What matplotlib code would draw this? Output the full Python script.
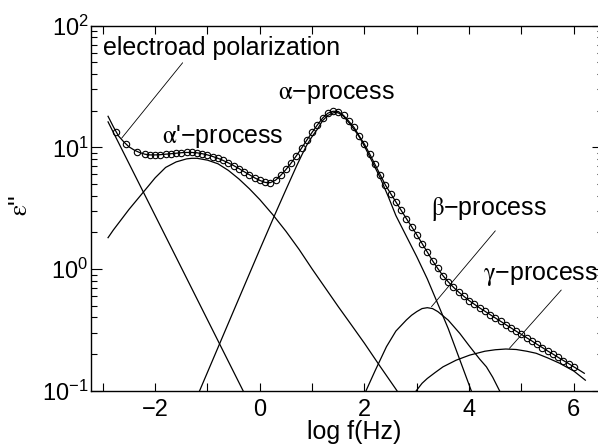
import matplotlib
matplotlib.use("Agg")
import matplotlib.pyplot as plt
from matplotlib.ticker import MultipleLocator, LogLocator, NullFormatter

plt.rcParams['font.family'] = ['Liberation Sans', 'DejaVu Sans']
plt.rcParams['mathtext.fontset'] = 'stix'

# total fit curve (log f step 0.1)
fit_logf = [-2.9, -2.8, -2.7, -2.6, -2.5, -2.4, -2.3, -2.2, -2.1, -2.0,
            -1.9, -1.8, -1.7, -1.6, -1.5, -1.4, -1.3, -1.2, -1.1, -1.0,
            -0.9, -0.8, -0.7, -0.6, -0.5, -0.4, -0.3, -0.2, -0.1, 0.0,
            0.1, 0.2, 0.3, 0.4, 0.5, 0.6, 0.7, 0.8, 0.9, 1.0,
            1.1, 1.2, 1.3, 1.4, 1.5, 1.6, 1.7, 1.8, 1.9, 2.0,
            2.1, 2.2, 2.3, 2.4, 2.5, 2.6, 2.7, 2.8, 2.9, 3.0,
            3.1, 3.2, 3.3, 3.4, 3.5, 3.6, 3.7, 3.8, 3.9, 4.0,
            4.1, 4.2, 4.3, 4.4, 4.5, 4.6, 4.7, 4.8, 4.9, 5.0,
            5.1, 5.2, 5.3, 5.4, 5.5, 5.6, 5.7, 5.8, 5.9, 6.0,
            6.1, 6.2]
fit_eps = [18.0, 14.8, 12.4, 11.1, 10.1, 9.5, 9.08, 8.79, 8.67, 8.67,
           8.71, 8.79, 8.87, 8.95, 9.04, 9.08, 9.08, 9.02, 8.87, 8.67,
           8.41, 8.13, 7.80, 7.45, 7.08, 6.70, 6.31, 5.96, 5.62, 5.35,
           5.15, 5.13, 5.37, 5.89, 6.58, 7.45, 8.55, 9.89, 11.5, 13.3,
           15.3, 17.4, 19.1, 19.8, 19.7, 18.3, 16.4, 14.6, 12.4, 10.6,
           8.81, 7.24, 5.96, 4.90, 4.17, 3.56, 3.04, 2.60, 2.23, 1.91,
           1.62, 1.38, 1.17, 1.01, 0.881, 0.785, 0.708, 0.646, 0.596, 0.550,
           0.513, 0.479, 0.450, 0.422, 0.396, 0.372, 0.349, 0.328, 0.308, 0.290,
           0.272, 0.256, 0.240, 0.226, 0.212, 0.200, 0.188, 0.177, 0.167, 0.157,
           0.148, 0.139]

# measured points (open circles)
data_logf = [-2.75, -2.55, -2.35] + fit_logf[7:90]
data_eps = [13.3, 10.6, 9.2] + fit_eps[7:90]

# electrode polarization
ep_logf = [-2.9, -1.6, -0.3]
ep_eps = [16.2, 1.25, 0.096]

# alpha' process
a2_logf = [-2.9, -2.8, -2.5, -2.2, -2.0, -1.8, -1.6, -1.4, -1.3, -1.2,
           -1.0, -0.8, -0.6, -0.4, -0.2, 0.0, 0.25, 0.5, 0.75, 1.0,
           1.25, 1.5, 1.75, 2.0, 2.3, 2.62]
a2_eps = [1.81, 2.09, 3.09, 4.42, 5.62, 6.84, 7.59, 8.04, 8.13, 8.13,
          7.85, 7.33, 6.46, 5.50, 4.57, 3.72, 2.79, 2.04, 1.45, 1.0,
          0.70, 0.49, 0.347, 0.245, 0.158, 0.1]

# alpha process
a_logf = [-1.15, -0.5, 0.0, 0.3, 0.5, 0.7, 0.8, 0.9, 1.0, 1.1,
          1.2, 1.3, 1.4, 1.45, 1.5, 1.6, 1.7, 1.8, 1.9, 2.0,
          2.15, 2.3, 2.45, 2.6, 2.8, 3.0, 3.2, 3.4, 3.6, 3.8, 4.04]
a_eps = [0.1, 0.454, 1.45, 2.88, 4.50, 7.0, 8.61, 10.5, 12.3, 14.1,
         16.6, 18.3, 19.2, 19.4, 19.2, 18.0, 16.0, 14.1, 12.2, 10.2,
         7.59, 5.62, 3.98, 2.75, 1.86, 1.26, 0.83, 0.519, 0.324, 0.19, 0.1]

# beta process
b_logf = [2.03, 2.2, 2.42, 2.6, 2.8, 2.9, 3.0, 3.1, 3.2, 3.3,
          3.4, 3.6, 3.82, 4.0, 4.2, 4.33, 4.45, 4.58]
b_eps = [0.1, 0.145, 0.23, 0.309, 0.381, 0.417, 0.447, 0.473, 0.481, 0.473,
         0.447, 0.380, 0.296, 0.234, 0.182, 0.157, 0.129, 0.1]

# gamma process
g_logf = [2.99, 3.1, 3.2, 3.35, 3.5, 3.75, 4.01, 4.3, 4.5, 4.7,
          4.9, 5.1, 5.28, 5.5, 5.73, 6.0, 6.22]
g_eps = [0.1, 0.115, 0.126, 0.141, 0.157, 0.178, 0.196, 0.211, 0.217, 0.220,
         0.218, 0.211, 0.203, 0.186, 0.168, 0.145, 0.122]

fig = plt.figure(figsize=(5.98, 4.47), dpi=100)
ax = fig.add_axes([0.1527, 0.126, 0.855, 0.8165])
ax.set_yscale('log')

lw = 0.9
for xs, ys in [(ep_logf, ep_eps), (a2_logf, a2_eps), (a_logf, a_eps),
               (b_logf, b_eps), (g_logf, g_eps), (fit_logf, fit_eps)]:
    ax.plot(xs, ys, color='k', lw=lw)
ax.plot(data_logf, data_eps, 'o', mfc='none', mec='k', ms=4.6, mew=0.8)

ax.set_xlim(-3.22, 6.55)
ax.set_ylim(0.1, 100)

# labels + leader lines
fs = 18
ax.text(-2.99, 57.3, 'electroad polarization', fontsize=fs, ha='left', va='baseline')
ax.text(-1.876, 10.8, r"$\mathrm{\alpha}$'−process", fontsize=fs, ha='left', va='baseline')
ax.text(0.35, 24.9, r"$\mathrm{\alpha}$−process", fontsize=fs, ha='left', va='baseline')
ax.text(3.28, 2.78, r"$\mathrm{\beta}$−process", fontsize=fs, ha='left', va='baseline')
ax.text(4.26, 0.812, r"$\mathrm{\gamma}$−process", fontsize=fs, ha='left', va='baseline')

lead = dict(arrowstyle='-', lw=0.6, color='k', shrinkA=0, shrinkB=0)
ax.annotate('', xy=(-2.64, 11.9), xytext=(-1.475, 49.6), arrowprops=lead)
ax.annotate('', xy=(3.28, 0.49), xytext=(4.50, 2.06), arrowprops=lead)
ax.annotate('', xy=(4.77, 0.223), xytext=(5.76, 0.672), arrowprops=lead)

# axes styling
ax.xaxis.set_major_locator(MultipleLocator(2))
ax.xaxis.set_minor_locator(MultipleLocator(1))
ax.yaxis.set_major_locator(LogLocator(base=10))
ax.yaxis.set_minor_locator(LogLocator(base=10, subs=range(2, 10)))
ax.yaxis.set_minor_formatter(NullFormatter())
ax.tick_params(which='both', direction='in', top=True, right=True, width=0.8, labelsize=17)
ax.tick_params(axis='x', which='both', length=5.5, pad=6)
ax.tick_params(axis='y', which='major', length=8, pad=2)
ax.tick_params(axis='y', which='minor', length=4)
for s in ['left', 'bottom', 'top']:
    ax.spines[s].set_linewidth(1.0)
ax.spines['right'].set_visible(False)

fig.text(354 / 598, 1 - 432 / 447, 'log f(Hz)', fontsize=fs, ha='center', va='center')
fig.text(20 / 598, 1 - 205 / 447, r"$\mathrm{\varepsilon}$''", fontsize=fs,
         rotation=90, ha='center', va='center')

fig.savefig('out.png', dpi=100)
